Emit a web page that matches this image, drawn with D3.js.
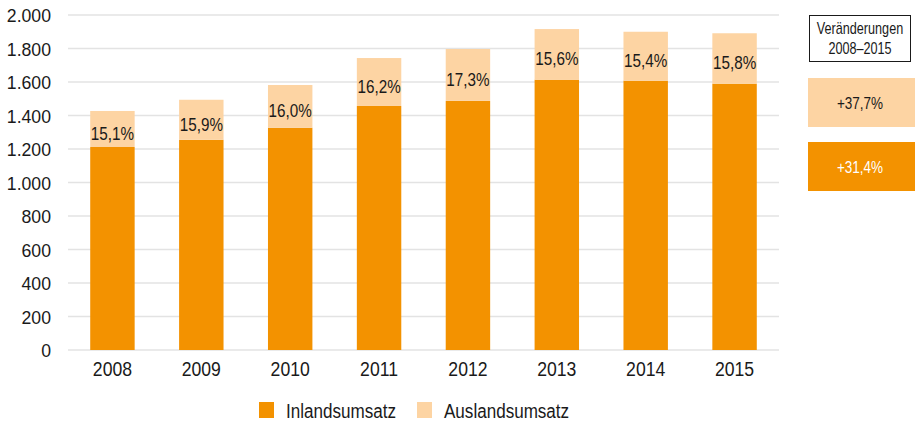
<!DOCTYPE html>
<html><head><meta charset="utf-8">
<script src="https://cdn.jsdelivr.net/npm/d3@7"></script>
<style>
body{margin:0;background:#fff;}
svg text{font-family:"Liberation Sans",Arial,sans-serif;fill:#1a1a1a;}
</style></head><body>
<svg id="c" width="915" height="422"></svg>
<script>
const years = ["2008","2009","2010","2011","2012","2013","2014","2015"];
const inland = [1212,1255,1327,1457,1487,1614,1608,1590];
const ausland = [215,239,255,286,310,302,292,301];
const shareLabels = ["15,1%","15,9%","16,0%","16,2%","17,3%","15,6%","15,4%","15,8%"];
const yTicks = [0,200,400,600,800,1000,1200,1400,1600,1800,2000];
const seriesNames = ["Inlandsumsatz","Auslandsumsatz"];
const changeTitle = ["Veränderungen","2008–2015"];
const changeLabels = ["+37,7%","+31,4%"];

const dark = "#F39200", light = "#FDD4A3";
const svg = d3.select("#c");
const x = d3.scaleBand().domain(years).range([68,779]).paddingInner(0.5).paddingOuter(0.25);
const y = d3.scaleLinear().domain([0,2000]).range([350,15]);
const de = d3.formatLocale({decimal:",",thousands:".",grouping:[3],currency:["","€"]});
const fmt = de.format(",d");

function stext(parent, tx, ty, size, sx, anchor, str, fill){
  return parent.append("text")
    .attr("transform",`translate(${tx},${ty}) scale(${sx},1)`)
    .attr("text-anchor",anchor).style("font-size",size+"px")
    .style("fill",fill||"#1a1a1a").text(str);
}

// grid
svg.append("g").selectAll("line").data(yTicks).join("line")
  .attr("x1",68).attr("x2",779).attr("y1",d=>y(d)).attr("y2",d=>y(d))
  .attr("stroke","#e3e3e3").attr("stroke-width",1.5);

// y axis labels
const ya = svg.append("g").attr("transform","translate(51,0)")
  .call(d3.axisLeft(y).tickValues(yTicks).tickFormat(fmt).tickSize(0).tickPadding(0));
ya.select(".domain").remove();
ya.selectAll("text").attr("x",0).attr("dy",null).attr("y",6.6)
  .attr("transform","scale(0.95,1)").style("font-size","18.6px").style("font-family","Liberation Sans");

// x axis labels
const xa = svg.append("g").attr("transform","translate(0,376)")
  .call(d3.axisBottom(x).tickSize(0).tickPadding(0));
xa.select(".domain").remove();
xa.selectAll("text").attr("y",0).attr("dy",null)
  .attr("transform","scale(0.84,1)").style("font-size","21px").style("font-family","Liberation Sans");

// bars
const g = svg.append("g");
g.selectAll("rect.in").data(years).join("rect").attr("class","in")
  .attr("x",d=>x(d)).attr("width",x.bandwidth())
  .attr("y",(d,i)=>y(inland[i])).attr("height",(d,i)=>y(0)-y(inland[i]))
  .attr("fill",dark);
g.selectAll("rect.aus").data(years).join("rect").attr("class","aus")
  .attr("x",d=>x(d)).attr("width",x.bandwidth())
  .attr("y",(d,i)=>y(inland[i]+ausland[i])).attr("height",(d,i)=>y(inland[i])-y(inland[i]+ausland[i]))
  .attr("fill",light);
years.forEach((d,i)=>{
  const cy = (y(inland[i])+y(inland[i]+ausland[i]))/2;
  stext(g, x(d)+x.bandwidth()/2, cy+11, 18.6, 0.82, "middle", shareLabels[i]);
});

// legend
const lg = svg.append("g");
const lx = [259,417];
seriesNames.forEach((n,i)=>{
  lg.append("rect").attr("x",lx[i]).attr("y",402).attr("width",15).attr("height",16).attr("fill",i?light:dark);
  stext(lg, lx[i]+27, 417.5, 19.5, 0.875, "start", n);
});

// right panel
const rp = svg.append("g");
rp.append("rect").attr("x",809.5).attr("y",15.5).attr("width",101).attr("height",46)
  .attr("fill","#fff").attr("stroke","#1a1a1a").attr("stroke-width",1);
changeTitle.forEach((t,i)=>{
  stext(rp, 860, 34+i*20, 16, 0.79, "middle", t);
});
[[78,light,"#1a1a1a"],[142,dark,"#fff"]].forEach((b,i)=>{
  rp.append("rect").attr("x",808).attr("y",b[0]).attr("width",107).attr("height",49).attr("fill",b[1]);
  stext(rp, 860, b[0]+31, 16.5, 0.82, "middle", changeLabels[i], b[2]);
});
</script>
</body></html>
